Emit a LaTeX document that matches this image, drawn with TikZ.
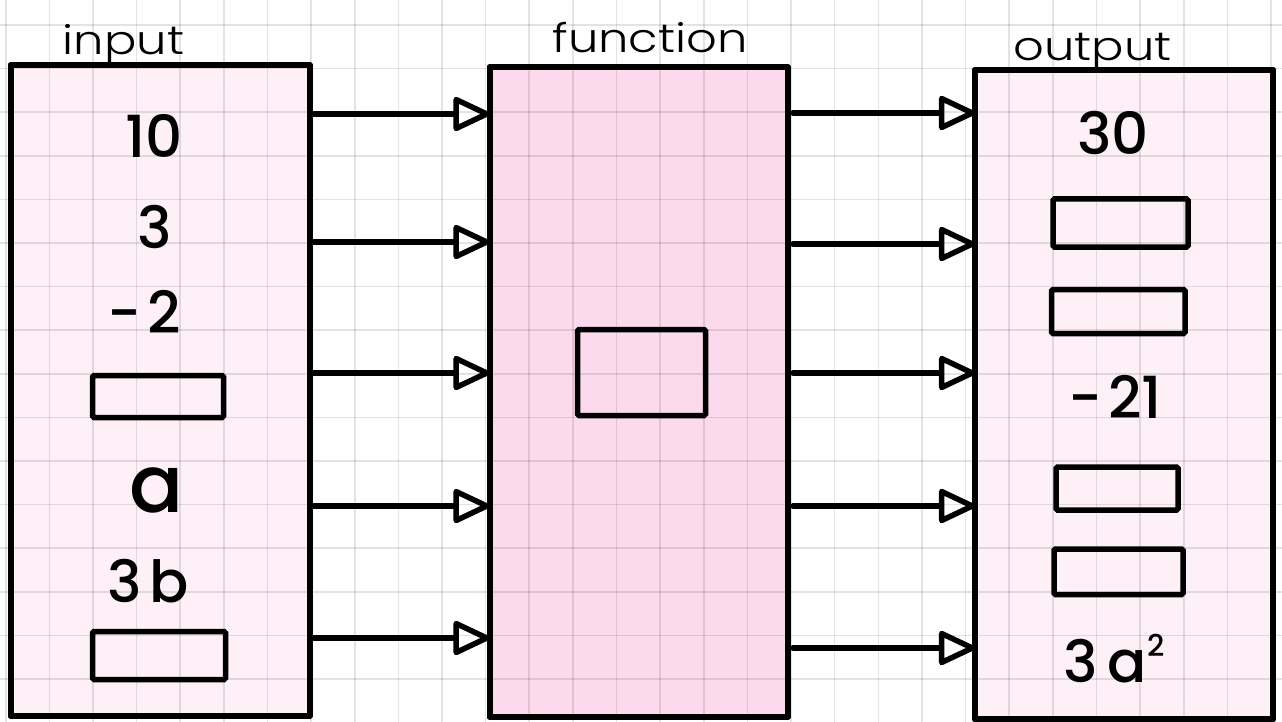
\documentclass[tikz,border=0pt]{standalone}
\usepackage{fontspec}
\setmainfont{Poppins}[UprightFont=* Medium]
\newfontfamily\labfont{Poppins}[UprightFont=* Light]
\usetikzlibrary{arrows.meta,calc}
\definecolor{pinklight}{HTML}{FDF1F7}
\definecolor{pinkfn}{HTML}{FCDAEE}
\begin{document}
\begin{tikzpicture}[x=1pt,y=-1pt,
  bigbox/.style={draw=black,line width=6pt,line join=round,inner sep=0pt,outer sep=0pt,anchor=north west},
  slot/.style={draw=black,line width=5.5pt,rounded corners=1.5pt,inner sep=0pt},
  gridline/.style={draw=black,draw opacity=0.11,line width=1.6pt},
  arr/.style={line width=5.5pt,line cap=round,-{Triangle[open,length=40pt,width=36pt,line join=round]}},
  val/.style={font=\fontsize{58}{60}\selectfont,anchor=base,inner sep=0pt},
  lab/.style={font=\labfont\fontsize{40}{42}\selectfont,anchor=base,inner sep=0pt,xscale=1.2}]
\useasboundingbox (0,0) rectangle (1282,722);
\fill[white] (0,0) rectangle (1282,722);
% big boxes
\node[bigbox,fill=pinklight,minimum width=299pt,minimum height=650pt] (inbox) at (10.5,65.5) {};
\node[bigbox,fill=pinkfn,minimum width=298pt,minimum height=649pt] (fn) at (489.5,67.5) {};
\node[bigbox,fill=pinklight,minimum width=298pt,minimum height=649pt] (outbox) at (975,70) {};
% grid
\foreach \k in {0,...,29} \draw[gridline] ({5.7+43.63*\k},0) -- ({5.7+43.63*\k},722);
\foreach \k in {0,...,15} \draw[gridline] (0,{25+43.6*\k}) -- (1282,{25+43.6*\k});
% redraw borders on top
\node[bigbox,minimum width=299pt,minimum height=650pt] at (10.5,65.5) {};
\node[bigbox,minimum width=298pt,minimum height=649pt] at (489.5,67.5) {};
\node[bigbox,minimum width=298pt,minimum height=649pt] at (975,70) {};
% slots
\node[slot,minimum width=131pt,minimum height=42pt] (in4) at (158,396.5) {};
\node[slot,minimum width=133pt,minimum height=48pt] (in7) at (159,655.5) {};
\node[slot,minimum width=128pt,minimum height=86pt] (fnslot) at (641.5,372.5) {};
\node[slot,minimum width=135pt,minimum height=48pt] (out2) at (1120.5,223) {};
\node[slot,minimum width=133.5pt,minimum height=44pt] (out3) at (1118.25,311.5) {};
\node[slot,minimum width=122pt,minimum height=43pt] (out5) at (1117,488.5) {};
\node[slot,minimum width=129pt,minimum height=45.5pt] (out6) at (1118.5,571.75) {};
% labels
\node[lab] (labin) at (123.5,55) {input};
\node[lab] (labfn) at (650,53) {function};
\node[lab] (labout) at (1092.5,61) {output};
% values
\node[val] (v1) at (154,158) {10};
\node[val] (v2) at (155,248) {3};
\node[val] (v3) at (144,333) {-\hspace{6pt}2};
\node[val,font=\fontsize{80}{80}\selectfont] (v5) at (157,512) {a};
\node[val] (v6) at (148,602) {3\hspace{8pt}b};
\node[val] (w1) at (1113,155) {30};
\node[val] (w4) at (1115,418) {-\hspace{6pt}21};
\node[val] (w7) at (1114,682) {3\hspace{10pt}a\raisebox{26pt}{\fontsize{30}{30}\selectfont 2}};
% arrows
\coordinate (l1) at (313,114);
\coordinate (l2) at (313,242);
\coordinate (l3) at (313,373);
\coordinate (l4) at (313,506);
\coordinate (l5) at (313,638);
\coordinate (r1) at (793,113);
\coordinate (r2) at (793,244);
\coordinate (r3) at (793,373);
\coordinate (r4) at (793,506);
\coordinate (r5) at (793,648);
\foreach \c in {l1,l2,l3,l4,l5} \draw[arr] (\c) -- (\c -| fn.west);
\foreach \c in {r1,r2,r3,r4,r5} \draw[arr] (\c) -- (\c -| outbox.west);
\end{tikzpicture}
\end{document}
